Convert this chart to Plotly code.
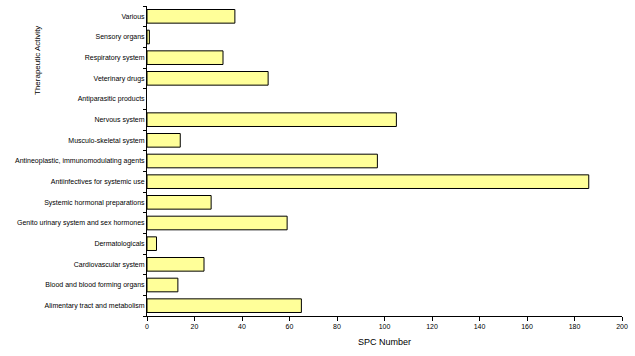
import plotly.graph_objects as go

categories = [
    "Alimentary tract and metabolism",
    "Blood and blood forming organs",
    "Cardiovascular system",
    "Dermatologicals",
    "Genito urinary system and sex hormones",
    "Systemic hormonal preparations",
    "Antiinfectives for systemic use",
    "Antineoplastic, immunomodulating agents",
    "Musculo-skeletal system",
    "Nervous system",
    "Antiparasitic products",
    "Veterinary drugs",
    "Respiratory system",
    "Sensory organs",
    "Various",
]
spc_counts = [65, 13, 24, 4, 59, 27, 186, 97, 14, 105, 0, 51, 32, 1, 37]
x_ticks = [0, 20, 40, 60, 80, 100, 120, 140, 160, 180, 200]

FONT = "Liberation Sans, Arial, sans-serif"

L, R, T, B = 147, 13, 6, 40
W, H = 635, 356
plot_w = W - L - R
plot_h = H - T - B

fig = go.Figure(
    go.Bar(
        x=spc_counts,
        y=categories,
        orientation="h",
        marker=dict(
            color="#FFFF99",
            line=dict(color="black", width=[0 if v == 0 else 1 for v in spc_counts]),
        ),
        width=0.66,
    )
)

fig.update_layout(
    width=W,
    height=H,
    margin=dict(l=L, r=R, t=T, b=B, autoexpand=False),
    paper_bgcolor="white",
    plot_bgcolor="white",
    showlegend=False,
    font=dict(family=FONT, size=7, color="black"),
    xaxis=dict(
        range=[0, 200],
        tickvals=x_ticks,
        showgrid=False,
        zeroline=False,
        showline=True,
        linecolor="black",
        linewidth=1,
        ticks="outside",
        ticklen=4,
        tickcolor="black",
        tickfont=dict(size=7),
        automargin=False,
    ),
    yaxis=dict(
        categoryorder="array",
        categoryarray=categories,
        range=[-0.5, len(categories) - 0.5],
        showgrid=False,
        zeroline=False,
        showline=True,
        linecolor="black",
        linewidth=1,
        ticks="outside",
        tickson="boundaries",
        ticklen=3,
        tickcolor="black",
        tickfont=dict(size=7),
        automargin=False,
    ),
    annotations=[
        dict(
            text="Therapeutic Activity",
            x=(37 - L) / plot_w,
            y=1 - (61 - T) / plot_h,
            xref="paper",
            yref="paper",
            xanchor="center",
            yanchor="middle",
            showarrow=False,
            textangle=-90,
            font=dict(size=8),
        ),
        dict(
            text="SPC Number",
            x=(384 - L) / plot_w,
            y=1 - (342 - T) / plot_h,
            xref="paper",
            yref="paper",
            xanchor="center",
            yanchor="middle",
            showarrow=False,
            font=dict(size=9),
        ),
    ],
)

fig.write_html(
    "out.html",
    config={"displayModeBar": False},
    post_script="document.body.style.margin='0';document.body.style.padding='0';",
)
